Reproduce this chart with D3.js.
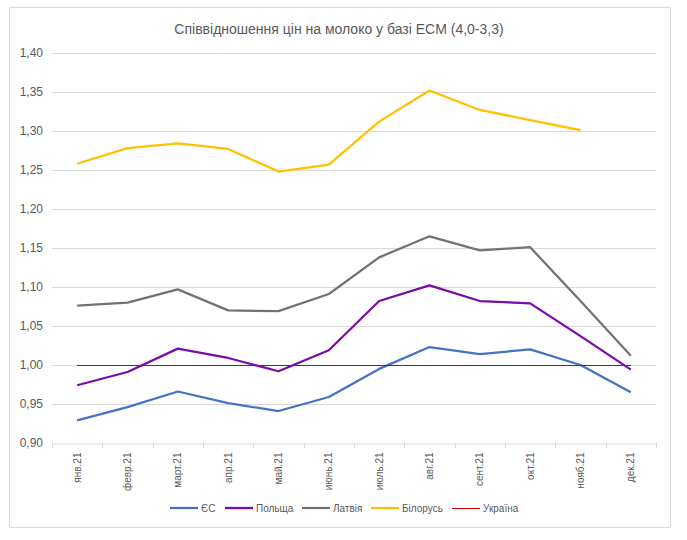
<!DOCTYPE html>
<html>
<head>
<meta charset="utf-8">
<script src="https://cdn.jsdelivr.net/npm/d3@7"></script>
<style>
  body { margin: 0; background: #fff; }
  text { font-family: "Liberation Sans", Arial, sans-serif; fill: #595959; }
</style>
</head>
<body>
<svg id="chart" width="687" height="540"></svg>
<script>
(function() {

    var months = ['янв.21', 'февр.21', 'март.21', 'апр.21', 'май.21', 'июнь.21',
                  'июль.21', 'авг.21', 'сент.21', 'окт.21', 'нояб.21', 'дек.21'];

    var eu      = [0.929, 0.946, 0.966, 0.951, 0.941, 0.959, 0.995, 1.023, 1.014, 1.020, 1.000, 0.965];
    var poland  = [0.974, 0.991, 1.021, 1.009, 0.992, 1.019, 1.082, 1.102, 1.082, 1.079, 1.037, 0.994];
    var latvia  = [1.076, 1.080, 1.097, 1.070, 1.069, 1.091, 1.138, 1.165, 1.147, 1.151, 1.082, 1.012];
    var belarus = [1.258, 1.278, 1.284, 1.277, 1.248, 1.257, 1.312, 1.352, 1.327, 1.314, 1.301, null];
    var ukraine = [1.00, 1.00, 1.00, 1.00, 1.00, 1.00, 1.00, 1.00, 1.00, 1.00, 1.00, 1.00];

    var yTicks = [0.90, 0.95, 1.00, 1.05, 1.10, 1.15, 1.20, 1.25, 1.30, 1.35, 1.40];

    var series = [
        { name: 'ЄС', values: eu, color: '#4472C4', w: 2.25 },
        { name: 'Польща', values: poland, color: '#7A0BAA', w: 2.25 },
        { name: 'Латвія', values: latvia, color: '#767171', w: 2.25 },
        { name: 'Білорусь', values: belarus, color: '#FFC000', w: 2.25 },
        { name: 'Україна', values: ukraine, color: '#D00000', w: 1 }
    ];

    var svg = d3.select('#chart');

    // outer frame
    svg.append('rect')
        .attr('x', 9.5).attr('y', 7.5)
        .attr('width', 661).attr('height', 520)
        .attr('fill', '#fff')
        .attr('stroke', '#D9D9D9');

    var left = 52, right = 656, top = 53, bottom = 443;

    var x = d3.scaleBand().domain(months).range([left, right]);
    var y = d3.scaleLinear().domain([0.90, 1.40]).range([bottom, top]);

    svg.append('text')
        .attr('x', 339).attr('y', 34)
        .attr('text-anchor', 'middle')
        .style('font-size', '14px')
        .text('Співвідношення цін на молоко у базі ECM (4,0-3,3)');

    // grid
    svg.append('g')
        .selectAll('line')
        .data(yTicks.slice(1))
        .enter()
        .append('line')
        .attr('x1', left).attr('x2', right)
        .attr('y1', function(d) { return Math.round(y(d)) + 0.5; })
        .attr('y2', function(d) { return Math.round(y(d)) + 0.5; })
        .attr('stroke', '#D9D9D9');

    // y axis labels
    var yAxis = svg.append('g')
        .attr('transform', 'translate(' + (left - 6) + ',0)')
        .call(d3.axisLeft(y).tickValues(yTicks).tickSize(0)
            .tickFormat(function(d) { return d3.format('.2f')(d).replace('.', ','); }));
    yAxis.select('.domain').remove();
    yAxis.selectAll('text')
        .attr('fill', '#595959')
        .style('font-size', '12px');

    // x axis
    var xAxis = svg.append('g')
        .attr('transform', 'translate(0,' + (Math.round(bottom) + 0.5) + ')')
        .call(d3.axisBottom(x).tickSize(0));
    xAxis.select('.domain').attr('stroke', '#D9D9D9');
    xAxis.selectAll('text')
        .attr('fill', '#595959')
        .style('font-size', '10px')
        .attr('transform', 'rotate(-90)')
        .attr('text-anchor', 'end')
        .attr('x', -9)
        .attr('y', 0)
        .attr('dy', '0.35em');

    // tick marks at band boundaries
    var edges = months.map(function(m) { return x(m); }).concat([right]);
    svg.append('g')
        .selectAll('line')
        .data(edges)
        .enter()
        .append('line')
        .attr('x1', function(d) { return Math.round(d) + 0.5; })
        .attr('x2', function(d) { return Math.round(d) + 0.5; })
        .attr('y1', bottom).attr('y2', bottom + 5)
        .attr('stroke', '#D9D9D9');

    var line = d3.line()
        .defined(function(d) { return d != null; })
        .x(function(d, i) { return x(months[i]) + x.bandwidth() / 2; })
        .y(function(d) { return y(d); });

    svg.append('g')
        .selectAll('path')
        .data(series)
        .enter()
        .append('path')
        .attr('d', function(s) { return line(s.values); })
        .attr('fill', 'none')
        .attr('stroke', function(s) { return s.color; })
        .attr('stroke-width', function(s) { return s.w; })
        .attr('stroke-linejoin', 'round')
        .attr('shape-rendering', function(s) { return s.w < 2 ? 'crispEdges' : null; });

    // legend
    var legendX = [170, 225, 302, 371, 452];
    var lg = svg.append('g')
        .selectAll('g')
        .data(series)
        .enter()
        .append('g')
        .attr('transform', function(d, i) { return 'translate(' + legendX[i] + ',508)'; });
    lg.append('line')
        .attr('x1', 0).attr('x2', 28)
        .attr('stroke', function(s) { return s.color; })
        .attr('stroke-width', function(s) { return s.w; })
        .attr('shape-rendering', function(s) { return s.w < 2 ? 'crispEdges' : null; });
    lg.append('text')
        .attr('x', 31).attr('dy', '0.35em')
        .style('font-size', '10px')
        .text(function(s) { return s.name; });

})();
</script>
</body>
</html>
